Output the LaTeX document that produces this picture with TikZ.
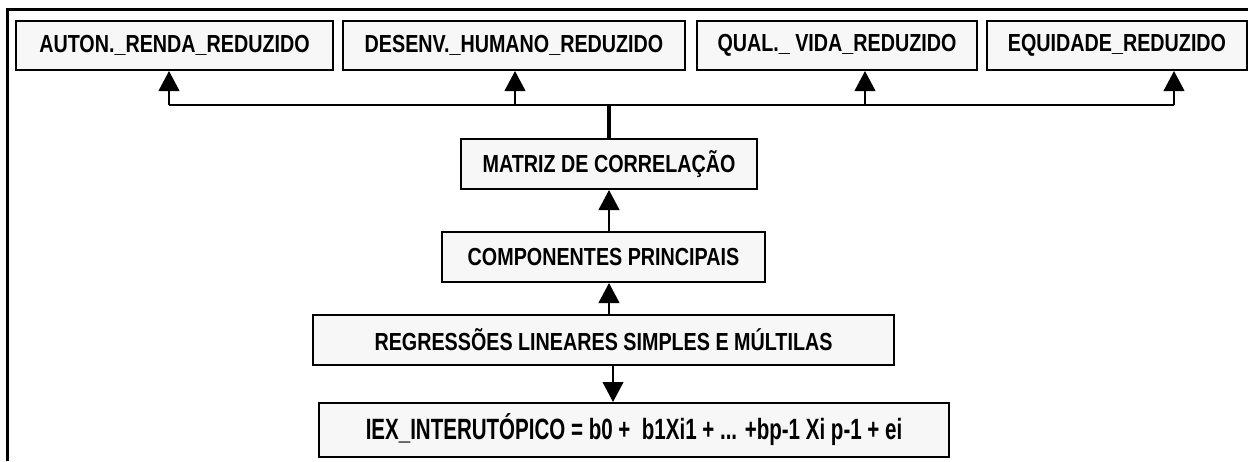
\documentclass[tikz,border=0pt]{standalone}
\usepackage{fontspec}
\setmainfont{Liberation Sans}[FakeStretch=0.8]
\newfontfamily\iexfont{Liberation Sans}[FakeStretch=0.7]
\usetikzlibrary{arrows.meta,calc}
\definecolor{boxfill}{HTML}{F7F7F7}
\tikzset{
  boxnode/.style={draw=black, fill=boxfill, line width=1.5pt, inner sep=0pt,
    font=\fontsize{18.5}{20}\selectfont\bfseries, text=black},
  bigbox/.style={boxnode, font=\iexfont\fontsize{22}{24}\selectfont\bfseries},
  arr/.style={line width=1.5pt, -{Triangle[length=15pt,width=15.5pt]}},
  link/.style={line width=1.5pt},
  thickline/.style={line width=3pt},
  frame/.style={line width=2.25pt}
}
\begin{document}
\begin{tikzpicture}[x=0.75pt,y=-0.75pt]
\useasboundingbox (0,0) rectangle (1248,461);
\fill[white] (0,0) rectangle (1248,461);
\draw[frame] (7,461) -- (7,9) -- (1249,9);

\node[boxnode, minimum width=317*0.75pt, minimum height=49*0.75pt] (b1) at (174.5,45.5) {AUTON.\_RENDA\_REDUZIDO};
\node[boxnode, minimum width=342*0.75pt, minimum height=49*0.75pt] (b2) at (514,45.5) {DESENV.\_HUMANO\_REDUZIDO};
\node[boxnode, minimum width=280*0.75pt, minimum height=49*0.75pt] (b3) at (837,45.5) {QUAL.\_ VIDA\_REDUZIDO};
\node[boxnode, minimum width=260*0.75pt, minimum height=49*0.75pt] (b4) at (1117,45.5) {EQUIDADE\_REDUZIDO};

\node[boxnode, minimum width=296*0.75pt, minimum height=50*0.75pt] (m) at (609,164) {MATRIZ DE CORRELAÇÃO};
\node[boxnode, minimum width=323*0.75pt, minimum height=50*0.75pt] (c) at (603.5,257) {COMPONENTES PRINCIPAIS};
\node[boxnode, minimum width=581*0.75pt, minimum height=50*0.75pt] (r) at (603.5,340) {REGRESSÕES LINEARES SIMPLES E MÚLTILAS};
\node[bigbox, minimum width=630*0.75pt, minimum height=54*0.75pt] (i) at (634,430) {IEX\_INTERUTÓPICO = b0 +\ \ b1Xi1 + ... +bp-1 Xi p-1 + ei};

\coordinate (bus) at (609,105);
\coordinate (busL) at (169,105);
\coordinate (busR) at (1174,105);
\draw[thickline] (m.north) -- (bus);
\draw[link] (busL) -- (busR);
\draw[arr] (busL) -- ($(b1.south)+(-5.5,0)$);
\draw[arr] ($(bus)+(-94,0)$) -- ($(b2.south)+(1,0)$);
\draw[arr] ($(bus)+(256,0)$) -- ($(b3.south)+(28,0)$);
\draw[arr] (busR) -- ($(b4.south)+(57,0)$);

\draw[arr] (c.north -| m.south) -- (m.south);
\draw[arr] (r.north -| m.south) -- (c.south -| m.south);
\draw[arr] ($(r.south)+(9.5,0)$) -- ($(i.north)+(-21,0)$);
\end{tikzpicture}
\end{document}
